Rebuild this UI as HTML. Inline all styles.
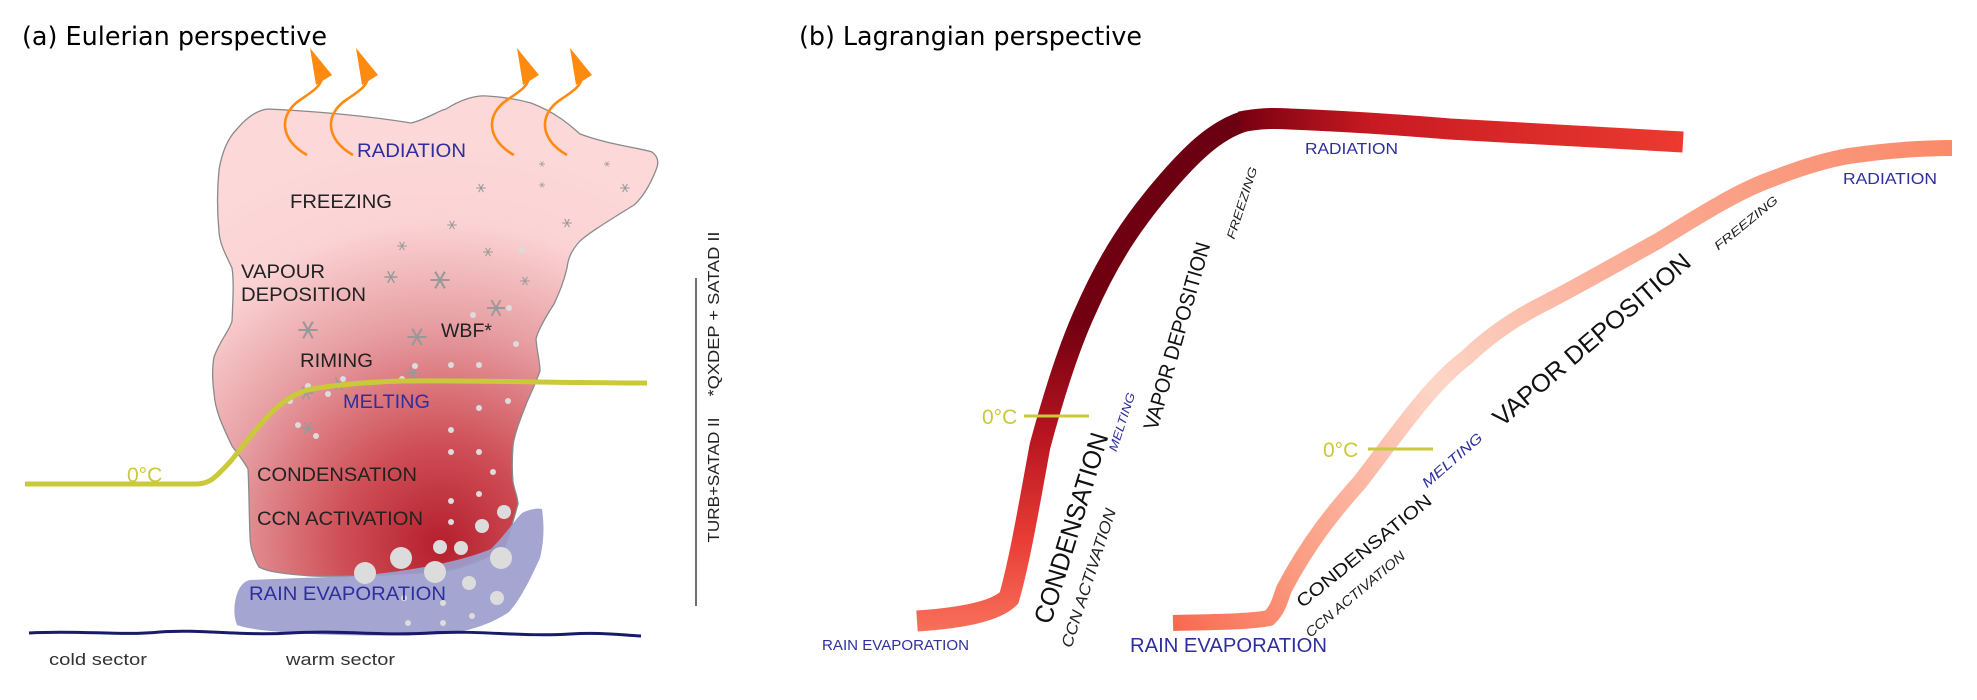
<!DOCTYPE html>
<html><head><meta charset="utf-8"><style>
html,body{margin:0;padding:0;background:#fff;}
svg{display:block;font-family:"Liberation Sans",Arial,sans-serif;}
</style></head><body>
<svg width="1977" height="700" viewBox="0 0 1977 700">
<defs>
<radialGradient id="cloudG" gradientUnits="userSpaceOnUse" cx="440" cy="540" r="400" fx="440" fy="545">
<stop offset="0" stop-color="#b51f2c"/>
<stop offset="0.25" stop-color="#cf4f57"/>
<stop offset="0.55" stop-color="#e7a0a4"/>
<stop offset="0.8" stop-color="#fbd3d4"/>
<stop offset="1" stop-color="#fdd8d8"/>
</radialGradient>
<linearGradient id="c1v" gradientUnits="userSpaceOnUse" x1="0" y1="630" x2="0" y2="120">
<stop offset="0" stop-color="#f8705a"/>
<stop offset="0.18" stop-color="#e83c35"/>
<stop offset="0.38" stop-color="#b81520"/>
<stop offset="0.6" stop-color="#720010"/>
<stop offset="1" stop-color="#6a0012"/>
</linearGradient>
<linearGradient id="c1h" gradientUnits="userSpaceOnUse" x1="1240" y1="0" x2="1683" y2="0">
<stop offset="0" stop-color="#780010"/>
<stop offset="0.3" stop-color="#c81a22"/>
<stop offset="1" stop-color="#ec3a30"/>
</linearGradient>
<linearGradient id="c2" gradientUnits="userSpaceOnUse" x1="1173" y1="623" x2="1952" y2="150">
<stop offset="0" stop-color="#f86a50"/>
<stop offset="0.15" stop-color="#fb9c82"/>
<stop offset="0.38" stop-color="#fdd6c8"/>
<stop offset="0.6" stop-color="#fbb09a"/>
<stop offset="1" stop-color="#fa8a6a"/>
</linearGradient>
<g id="star"><path d="M-6 0H6M-3 -5.2L3 5.2M-3 5.2L3 -5.2" stroke="#999" stroke-width="1.3" fill="none"/></g>
<g id="arrow">
<path d="M307 155 C280 140 278 115 300 100 C315 90 322 85 322 76" fill="none" stroke="#ff8a10" stroke-width="2.6"/>
<path d="M310 48 L332 75 L316 85 Z" fill="#ff8a10"/>
</g>
</defs>

<!-- Panel a -->
<text x="22" y="45" font-size="26" textLength="305" lengthAdjust="spacingAndGlyphs" font-family="DejaVu Sans, sans-serif">(a) Eulerian perspective</text>

<path d="M268 109 C330 112 380 118 411 123 C425 120 440 110 446 109 C460 100 475 95 487 96 C505 97 520 100 531 103 C555 112 570 125 580 134 C610 145 640 148 652 152 C660 158 658 165 656 170 C650 185 642 198 634 205 C610 220 590 232 580 241 C570 252 568 260 567 268 C563 285 558 295 554 304 C545 318 538 330 536 339 C537 352 540 362 540 371 C535 385 530 395 527 402 C520 420 514 435 513 446 C512 460 512 472 513 482 C515 492 518 498 518 504 C512 525 508 540 504 549 C480 562 460 568 446 571 C400 575 340 577 312 576 C285 574 268 572 259 567 C252 555 250 545 250 536 C249 510 249 485 248 469 C242 458 236 452 232 446 C222 425 215 410 214 393 C212 378 212 368 214 357 C220 340 230 330 232 321 C233 300 234 280 232 268 C226 255 220 245 219 232 C217 210 217 190 219 170 C222 152 228 138 237 129 C248 116 258 110 268 109 Z" fill="url(#cloudG)" stroke="#8a8a8a" stroke-width="1.3"/>

<path d="M237 594 C240 585 245 581 250 580 C300 578 330 577 357 576 C420 570 465 560 491 549 C505 535 515 520 522 513 C530 509 538 508 542 509 C545 530 543 545 540 558 C530 580 520 600 509 612 C490 625 465 632 446 634 C400 636 350 636 312 634 C280 632 250 630 237 625 C233 615 234 603 237 594 Z" fill="#9c9ecd" opacity="0.92"/>

<path d="M29 633 C80 630 120 636 160 632 C200 629 240 636 290 633 C340 630 380 636 430 633 C480 630 520 637 570 634 C600 632 620 635 641 636" fill="none" stroke="#1a1a6a" stroke-width="3"/>

<g>
<use href="#star" transform="translate(542,164) scale(0.5)"/><use href="#star" transform="translate(607,164) scale(0.5)"/>
<use href="#star" transform="translate(481,188) scale(0.8)"/><use href="#star" transform="translate(542,185) scale(0.5)"/>
<use href="#star" transform="translate(625,188) scale(0.8)"/><use href="#star" transform="translate(452,225) scale(0.8)"/>
<use href="#star" transform="translate(567,223) scale(0.8)"/><use href="#star" transform="translate(402,246) scale(0.8)"/>
<use href="#star" transform="translate(488,252) scale(0.8)"/><use href="#star" transform="translate(391,277) scale(1.1)"/>
<use href="#star" transform="translate(440,280) scale(1.6)"/><use href="#star" transform="translate(525,281) scale(0.8)"/>
<use href="#star" transform="translate(496,308) scale(1.5)"/><use href="#star" transform="translate(308,330) scale(1.6)"/>
<use href="#star" transform="translate(417,337) scale(1.6)"/><use href="#star" transform="translate(413,373) scale(1.2)"/>
<use href="#star" transform="translate(306,393) scale(1.2)"/><use href="#star" transform="translate(339,384) scale(1.2)"/>
<use href="#star" transform="translate(308,428) scale(1.1)"/>
</g>
<g fill="#dcdcdc">
<circle cx="522" cy="250" r="3"/><circle cx="473" cy="315" r="3"/><circle cx="509" cy="308" r="3"/><circle cx="516" cy="344" r="3"/>
<circle cx="451" cy="365" r="3"/><circle cx="479" cy="365" r="3"/><circle cx="479" cy="408" r="3"/><circle cx="508" cy="401" r="3"/>
<circle cx="451" cy="430" r="3"/><circle cx="451" cy="452" r="3"/><circle cx="479" cy="452" r="3"/><circle cx="493" cy="472" r="3"/>
<circle cx="451" cy="501" r="3"/><circle cx="479" cy="494" r="3"/><circle cx="451" cy="522" r="3"/>
<circle cx="504" cy="512" r="7"/><circle cx="482" cy="526" r="7"/><circle cx="440" cy="547" r="7"/><circle cx="461" cy="548" r="7"/>
<circle cx="401" cy="558" r="11"/><circle cx="365" cy="573" r="11"/><circle cx="435" cy="572" r="11"/><circle cx="501" cy="558" r="11"/>
<circle cx="469" cy="583" r="7"/><circle cx="497" cy="598" r="7"/><circle cx="404" cy="598" r="3"/><circle cx="443" cy="603" r="3"/>
<circle cx="472" cy="616" r="3"/><circle cx="408" cy="623" r="3"/><circle cx="443" cy="623" r="3"/>
<circle cx="308" cy="386" r="3"/><circle cx="290" cy="401" r="3"/><circle cx="328" cy="394" r="3"/><circle cx="343" cy="379" r="3"/>
<circle cx="415" cy="366" r="3"/><circle cx="402" cy="379" r="3"/><circle cx="298" cy="425" r="3"/><circle cx="316" cy="436" r="3"/>
</g>

<path d="M25 484 L195 484 C210 484 215 478 230 462 C260 425 280 395 312 389 C340 384 370 382 402 381 C470 380 560 383 647 383" fill="none" stroke="#c9c93a" stroke-width="5"/>
<text x="127" y="482" font-size="21" fill="#c9c93a">0°C</text>

<g>
<use href="#arrow"/>
<use href="#arrow" transform="translate(46,0)"/>
<use href="#arrow" transform="translate(207,0)"/>
<use href="#arrow" transform="translate(260,0)"/>
</g>

<g font-size="19" fill="#222">
<text x="357" y="157" fill="#2e2e9e" textLength="109" lengthAdjust="spacingAndGlyphs">RADIATION</text>
<text x="290" y="208" textLength="102" lengthAdjust="spacingAndGlyphs">FREEZING</text>
<text x="241" y="278" textLength="84" lengthAdjust="spacingAndGlyphs">VAPOUR</text>
<text x="241" y="301" textLength="125" lengthAdjust="spacingAndGlyphs">DEPOSITION</text>
<text x="300" y="367" textLength="73" lengthAdjust="spacingAndGlyphs">RIMING</text>
<text x="441" y="337" textLength="51" lengthAdjust="spacingAndGlyphs">WBF*</text>
<text x="343" y="408" fill="#2e2e9e" textLength="87" lengthAdjust="spacingAndGlyphs">MELTING</text>
<text x="257" y="481" textLength="160" lengthAdjust="spacingAndGlyphs">CONDENSATION</text>
<text x="257" y="525" textLength="166" lengthAdjust="spacingAndGlyphs">CCN ACTIVATION</text>
<text x="249" y="600" fill="#2e2e9e" textLength="197" lengthAdjust="spacingAndGlyphs">RAIN EVAPORATION</text>
</g>
<text x="49" y="665" font-size="17" fill="#333" textLength="98" lengthAdjust="spacingAndGlyphs">cold sector</text>
<text x="286" y="665" font-size="17" fill="#333" textLength="109" lengthAdjust="spacingAndGlyphs">warm sector</text>

<line x1="696" y1="278" x2="696" y2="606" stroke="#444" stroke-width="1.5"/>
<text transform="translate(719,480) rotate(-90)" text-anchor="middle" font-size="16" fill="#222" textLength="125" lengthAdjust="spacingAndGlyphs">TURB+SATAD II</text>
<text transform="translate(719,314) rotate(-90)" text-anchor="middle" font-size="16" fill="#222" textLength="165" lengthAdjust="spacingAndGlyphs">*QXDEP + SATAD II</text>

<!-- Panel b -->
<text x="799" y="45" font-size="26" textLength="343" lengthAdjust="spacingAndGlyphs" font-family="DejaVu Sans, sans-serif">(b) Lagrangian perspective</text>

<path d="M917 621 C960 618 995 612 1009 598 C1020 560 1030 500 1040 446 C1055 390 1070 345 1085 312 C1110 255 1135 220 1162 188 C1190 155 1215 130 1245 121" fill="none" stroke="url(#c1v)" stroke-width="21"/>
<path d="M1240 122 C1260 118 1275 118 1290 119 C1340 121 1390 124 1450 129 C1550 135 1620 139 1683 142" fill="none" stroke="url(#c1h)" stroke-width="21"/>
<path d="M1173 623 C1210 622 1250 622 1269 618 C1278 610 1280 600 1284 589 C1310 540 1335 510 1360 482 C1400 430 1430 385 1467 357 C1490 335 1515 318 1543 304 C1580 285 1620 262 1658 241 C1700 215 1740 190 1772 179 C1800 168 1825 160 1849 156 C1890 150 1925 148 1952 148" fill="none" stroke="url(#c2)" stroke-width="16"/>

<line x1="1024" y1="416" x2="1089" y2="416" stroke="#c9c93a" stroke-width="3"/>
<text x="982" y="424" font-size="21" fill="#c9c93a">0°C</text>
<line x1="1368" y1="449" x2="1433" y2="449" stroke="#c9c93a" stroke-width="3"/>
<text x="1323" y="457" font-size="21" fill="#c9c93a">0°C</text>

<text x="1305" y="154" font-size="16" fill="#2e2e9e" textLength="93" lengthAdjust="spacingAndGlyphs">RADIATION</text>
<text x="822" y="650" font-size="15" fill="#2e2e9e" textLength="147" lengthAdjust="spacingAndGlyphs">RAIN EVAPORATION</text>
<text transform="translate(1242,203) rotate(-72)" text-anchor="middle" dy="4" font-size="12" font-style="italic" fill="#222" textLength="75" lengthAdjust="spacingAndGlyphs">FREEZING</text>
<text transform="translate(1177,336) rotate(-74)" text-anchor="middle" dy="7" font-size="21" fill="#111" textLength="194" lengthAdjust="spacingAndGlyphs">VAPOR DEPOSITION</text>
<text transform="translate(1122,422) rotate(-72)" text-anchor="middle" dy="4" font-size="12" font-style="italic" fill="#2e2e9e" textLength="61" lengthAdjust="spacingAndGlyphs">MELTING</text>
<text transform="translate(1071,528) rotate(-73)" text-anchor="middle" dy="9" font-size="26" fill="#111" textLength="198" lengthAdjust="spacingAndGlyphs">CONDENSATION</text>
<text transform="translate(1089,578) rotate(-72)" text-anchor="middle" dy="5" font-size="16" font-style="italic" fill="#222" textLength="145" lengthAdjust="spacingAndGlyphs">CCN ACTIVATION</text>

<text x="1843" y="184" font-size="16" fill="#2e2e9e" textLength="94" lengthAdjust="spacingAndGlyphs">RADIATION</text>
<text x="1130" y="652" font-size="20" fill="#2e2e9e" textLength="197" lengthAdjust="spacingAndGlyphs">RAIN EVAPORATION</text>
<text transform="translate(1746,223) rotate(-39)" text-anchor="middle" dy="4" font-size="12" font-style="italic" fill="#222" textLength="78" lengthAdjust="spacingAndGlyphs">FREEZING</text>
<text transform="translate(1592,340) rotate(-40.5)" text-anchor="middle" dy="8" font-size="25" fill="#111" textLength="251" lengthAdjust="spacingAndGlyphs">VAPOR DEPOSITION</text>
<text transform="translate(1452,460) rotate(-41)" text-anchor="middle" dy="5" font-size="14" font-style="italic" fill="#2e2e9e" textLength="75" lengthAdjust="spacingAndGlyphs">MELTING</text>
<text transform="translate(1364,551) rotate(-39)" text-anchor="middle" dy="6" font-size="18" fill="#111" textLength="168" lengthAdjust="spacingAndGlyphs">CONDENSATION</text>
<text transform="translate(1355,594) rotate(-40)" text-anchor="middle" dy="5" font-size="14" font-style="italic" fill="#222" textLength="125" lengthAdjust="spacingAndGlyphs">CCN ACTIVATION</text>
</svg>
</body></html>
